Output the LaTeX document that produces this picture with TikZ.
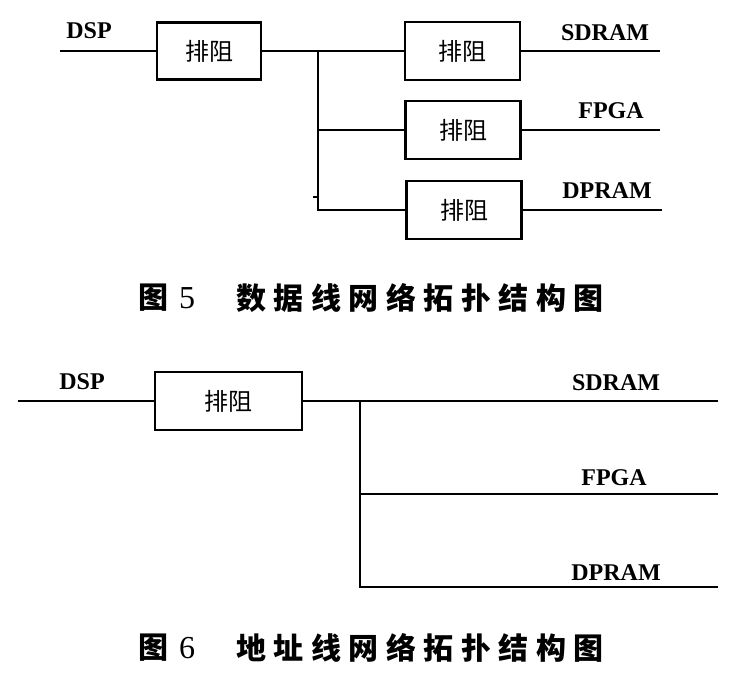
\documentclass[tikz,border=0pt]{standalone}
\usepackage{fontspec}
\setmainfont{Liberation Serif}
\newfontfamily\cjk{Noto Sans CJK SC}
\newcommand{\gp}{\kern7.5pt}
\begin{document}
\begin{tikzpicture}[x=1pt,y=-1pt,
  wire/.style={line width=2.3pt},
  rbox/.style={draw,line width=2.3pt,minimum width=115pt,minimum height=58pt,inner sep=0pt,outer sep=0pt,font=\cjk\fontsize{24}{24}\selectfont},
  lbl/.style={font=\bfseries\fontsize{24}{24}\selectfont,inner sep=0pt},
  captxt/.style={font=\cjk\bfseries\fontsize{30}{30}\selectfont,inner sep=0pt},
  capnum/.style={font=\fontsize{32}{32}\selectfont,inner sep=0pt}]
\fill[white] (0,0) rectangle (738,672);
\useasboundingbox (0,0) rectangle (738,672);

% ---------- Figure 5 ----------
\coordinate (dspA) at (60,51);
\node[rbox,minimum width=104pt,minimum height=57pt] (ra) at (209,51) {排阻};
\node[rbox] (rb1) at (462.5,51) {排阻};
\node[rbox] (rb2) at (463,130) {排阻};
\node[rbox] (rb3) at (464,210) {排阻};
\coordinate (jA) at (318,51);
\coordinate (oA1) at (660,51);
\coordinate (oA2) at (660,130);
\coordinate (oA3) at (662,210);
\coordinate (tickA) at (313,197);

\draw[wire] (dspA) -- (ra.west);
\draw[wire] (ra.east) -- (rb1.west);
\draw[wire] (jA) |- (rb3.west);
\draw[wire] (jA |- rb2.west) -- (rb2.west);
\draw[wire] (rb1.east) -- (oA1);
\draw[wire] (rb2.east) -- (oA2);
\draw[wire] (rb3.east) -- (oA3);
\draw[wire] (tickA) -- (tickA -| jA);

\node[lbl] (tDSPa) at (89,31) {DSP};
\node[lbl] (tSDa) at (605,33) {SDRAM};
\node[lbl] (tFPa) at (611,111) {FPGA};
\node[lbl] (tDPa) at (607,191) {DPRAM};

\node[captxt] (c5a) at (153,298) {图};
\node[capnum] (c5b) at (187,298) {5};
\node[captxt,anchor=west] (c5c) at (236,298) {数\gp 据\gp 线\gp 网\gp 络\gp 拓\gp 扑\gp 结\gp 构\gp 图};

% ---------- Figure 6 ----------
\coordinate (dspB) at (18,401);
\node[rbox,minimum width=147pt,minimum height=58pt] (rc) at (228.5,401) {排阻};
\coordinate (jB) at (360,401);
\coordinate (oB1) at (718,401);
\coordinate (oB2) at (718,494);
\coordinate (oB3) at (718,587);

\draw[wire] (dspB) -- (rc.west);
\draw[wire] (rc.east) -- (oB1);
\draw[wire] (jB) |- (oB3);
\draw[wire] (jB |- oB2) -- (oB2);

\node[lbl] (tDSPb) at (82,382) {DSP};
\node[lbl] (tSDb) at (616,383) {SDRAM};
\node[lbl] (tFPb) at (614,478) {FPGA};
\node[lbl] (tDPb) at (616,573) {DPRAM};

\node[captxt] (c6a) at (153,648) {图};
\node[capnum] (c6b) at (187,648) {6};
\node[captxt,anchor=west] (c6c) at (236,648) {地\gp 址\gp 线\gp 网\gp 络\gp 拓\gp 扑\gp 结\gp 构\gp 图};
\end{tikzpicture}
\end{document}
